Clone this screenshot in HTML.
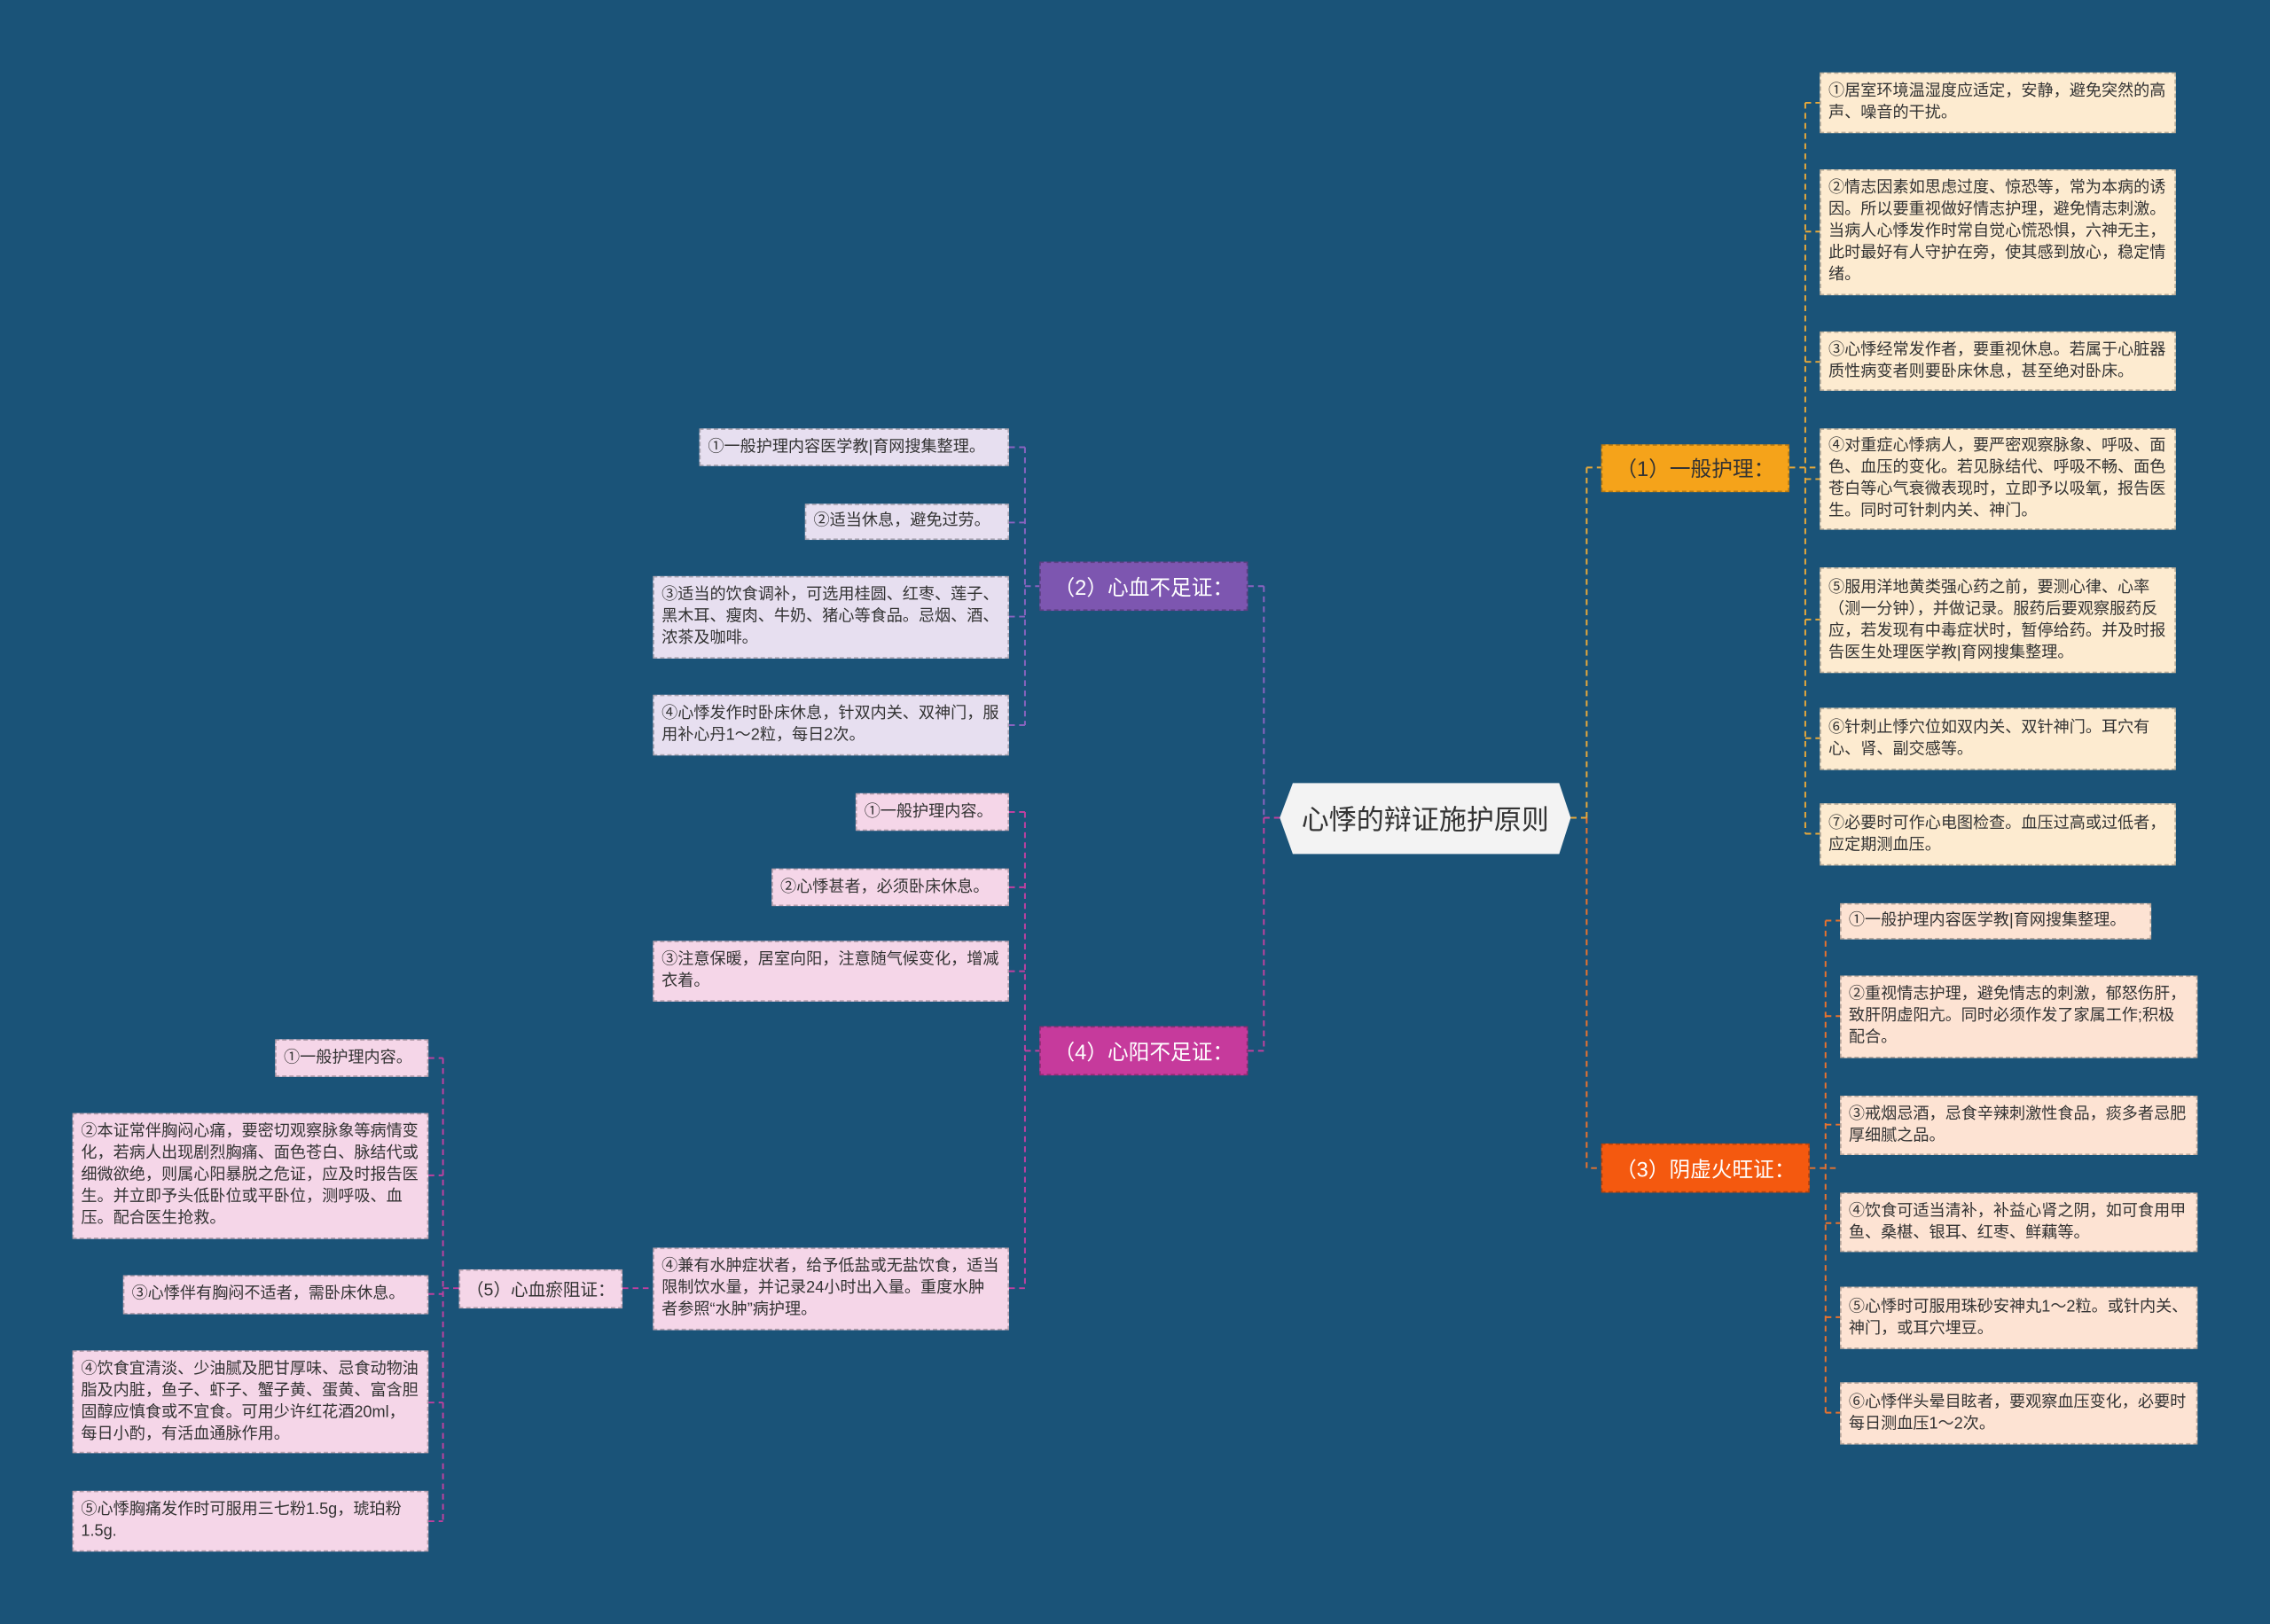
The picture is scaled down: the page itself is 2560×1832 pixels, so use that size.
<!DOCTYPE html>
<html><head><meta charset="utf-8"><style>
html,body{margin:0;padding:0}
body{width:2560px;height:1832px;overflow:hidden;background:#1a5378}
#w{position:absolute;left:0;top:0;width:1568px;height:1122px;transform:scale(1.63265,1.6328);transform-origin:0 0;font-family:"Liberation Sans","Noto Sans CJK SC",sans-serif}
.b{position:absolute;box-sizing:border-box;font-size:11.1px;line-height:15px;color:#333;padding:4px 5px;border:1px dashed rgba(0,0,0,.25);display:flex;align-items:center}
.y{background:#fdebd0}.o{background:#fde3d3}.l{background:#e7dff0}.p{background:#f5d6e8}
.n{position:absolute;box-sizing:border-box;font-size:14.5px;display:flex;align-items:center;justify-content:center;color:#fff;border:1px dashed rgba(0,0,0,.25)}
svg{position:absolute;left:0;top:0}
</style></head><body><div id="w">
<svg width="1568" height="1122" fill="none" stroke-width="1.2" stroke-dasharray="4 3">
<g stroke="#e8a93a">
<path d="M1247 71V576M1247 71H1257M1247 160H1257M1247 250H1257M1247 331H1257M1247 428H1257M1247 510H1257M1247 576H1257M1236 323H1257"/>
<path d="M1096 323V565M1096 323H1106M1085 565H1096"/>
</g>
<g stroke="#e9732e">
<path d="M1096 565V807H1106M1261 636V976M1261 636H1271M1261 702H1271M1261 777H1271M1261 845H1271M1261 910H1271M1261 976H1271M1250 807H1271"/>
</g>
<g stroke="#8a63c0">
<path d="M873 405V565M862 405H873M708 309V501M697 309H708M697 361H708M697 426H708M697 501H708M708 405H718"/>
</g>
<g stroke="#c040a0">
<path d="M873 565V726H862M873 565H884M708 561V890M697 561H708M697 613H708M697 671H708M697 890H708M708 726H718M306 731V1051M296 731H306M296 812H306M296 894H306M296 969H306M296 1051H306M306 890H317M430 890H451"/>
</g>
</svg>
<svg width="1568" height="1122"><polygon points="893,541 1077,541 1085,565 1077,590 893,590 884,565" fill="#f3f3f3"/></svg>
<div class="n" style="left:884px;top:541px;width:201px;height:49px;color:#333;font-size:19px;border:none">心悸的辩证施护原则</div>

<div class="n" style="left:1106px;top:307px;width:130px;height:33px;background:#f5a31a;color:#333">（1）一般护理：</div>
<div class="n" style="left:1106px;top:790px;width:144px;height:34px;background:#f4590f">（3）阴虚火旺证：</div>
<div class="n" style="left:718px;top:388px;width:144px;height:34px;background:#7d56b0">（2）心血不足证：</div>
<div class="n" style="left:718px;top:709px;width:144px;height:34px;background:#c63a9c">（4）心阳不足证：</div>
<div class="n" style="left:317px;top:877px;width:113px;height:27px;background:#f5d6e8;color:#333;font-size:12px">（5）心血瘀阻证：</div>

<div class="b y" style="left:1257px;top:50px;width:246px;height:42px">①居室环境温湿度应适定，安静，避免突然的高声、噪音的干扰。</div>
<div class="b y" style="left:1257px;top:117px;width:246px;height:87px">②情志因素如思虑过度、惊恐等，常为本病的诱因。所以要重视做好情志护理，避免情志刺激。当病人心悸发作时常自觉心慌恐惧，六神无主，此时最好有人守护在旁，使其感到放心，稳定情绪。</div>
<div class="b y" style="left:1257px;top:229px;width:246px;height:41px">③心悸经常发作者，要重视休息。若属于心脏器质性病变者则要卧床休息，甚至绝对卧床。</div>
<div class="b y" style="left:1257px;top:296px;width:246px;height:70px">④对重症心悸病人，要严密观察脉象、呼吸、面色、血压的变化。若见脉结代、呼吸不畅、面色苍白等心气衰微表现时，立即予以吸氧，报告医生。同时可针刺内关、神门。</div>
<div class="b y" style="left:1257px;top:392px;width:246px;height:73px">⑤服用洋地黄类强心药之前，要测心律、心率（测一分钟），并做记录。服药后要观察服药反应，若发现有中毒症状时，暂停给药。并及时报告医生处理医学教|育网搜集整理。</div>
<div class="b y" style="left:1257px;top:489px;width:246px;height:43px">⑥针刺止悸穴位如双内关、双针神门。耳穴有心、肾、副交感等。</div>
<div class="b y" style="left:1257px;top:555px;width:246px;height:43px">⑦必要时可作心电图检查。血压过高或过低者，应定期测血压。</div>

<div class="b o" style="left:1271px;top:624px;width:215px;height:25px">①一般护理内容医学教|育网搜集整理。</div>
<div class="b o" style="left:1271px;top:674px;width:247px;height:57px">②重视情志护理，避免情志的刺激，郁怒伤肝，致肝阴虚阳亢。同时必须作发了家属工作;积极配合。</div>
<div class="b o" style="left:1271px;top:757px;width:247px;height:41px">③戒烟忌酒，忌食辛辣刺激性食品，痰多者忌肥厚细腻之品。</div>
<div class="b o" style="left:1271px;top:824px;width:247px;height:41px">④饮食可适当清补，补益心肾之阴，如可食用甲鱼、桑椹、银耳、红枣、鲜藕等。</div>
<div class="b o" style="left:1271px;top:889px;width:247px;height:43px">⑤心悸时可服用珠砂安神丸1～2粒。或针内关、神门，或耳穴埋豆。</div>
<div class="b o" style="left:1271px;top:955px;width:247px;height:43px">⑥心悸伴头晕目眩者，要观察血压变化，必要时每日测血压1～2次。</div>

<div class="b l" style="left:483px;top:296px;width:214px;height:26px">①一般护理内容医学教|育网搜集整理。</div>
<div class="b l" style="left:556px;top:348px;width:141px;height:25px">②适当休息，避免过劳。</div>
<div class="b l" style="left:451px;top:398px;width:246px;height:57px">③适当的饮食调补，可选用桂圆、红枣、莲子、黑木耳、瘦肉、牛奶、猪心等食品。忌烟、酒、浓茶及咖啡。</div>
<div class="b l" style="left:451px;top:480px;width:246px;height:42px">④心悸发作时卧床休息，针双内关、双神门，服用补心丹1～2粒，每日2次。</div>

<div class="b p" style="left:591px;top:548px;width:106px;height:26px">①一般护理内容。</div>
<div class="b p" style="left:533px;top:600px;width:164px;height:26px">②心悸甚者，必须卧床休息。</div>
<div class="b p" style="left:451px;top:650px;width:246px;height:42px">③注意保暖，居室向阳，注意随气候变化，增减衣着。</div>
<div class="b p" style="left:451px;top:862px;width:246px;height:57px">④兼有水肿症状者，给予低盐或无盐饮食，适当限制饮水量，并记录24小时出入量。重度水肿者参照“水肿”病护理。</div>

<div class="b p" style="left:190px;top:718px;width:106px;height:26px">①一般护理内容。</div>
<div class="b p" style="left:50px;top:769px;width:246px;height:87px">②本证常伴胸闷心痛，要密切观察脉象等病情变化，若病人出现剧烈胸痛、面色苍白、脉结代或细微欲绝，则属心阳暴脱之危证，应及时报告医生。并立即予头低卧位或平卧位，测呼吸、血压。配合医生抢救。</div>
<div class="b p" style="left:85px;top:881px;width:211px;height:27px">③心悸伴有胸闷不适者，需卧床休息。</div>
<div class="b p" style="left:50px;top:933px;width:246px;height:71px">④饮食宜清淡、少油腻及肥甘厚味、忌食动物油脂及内脏，鱼子、虾子、蟹子黄、蛋黄、富含胆固醇应慎食或不宜食。可用少许红花酒20ml，每日小酌，有活血通脉作用。</div>
<div class="b p" style="left:50px;top:1030px;width:246px;height:42px">⑤心悸胸痛发作时可服用三七粉1.5g，琥珀粉1.5g.</div>
</div></body></html>
